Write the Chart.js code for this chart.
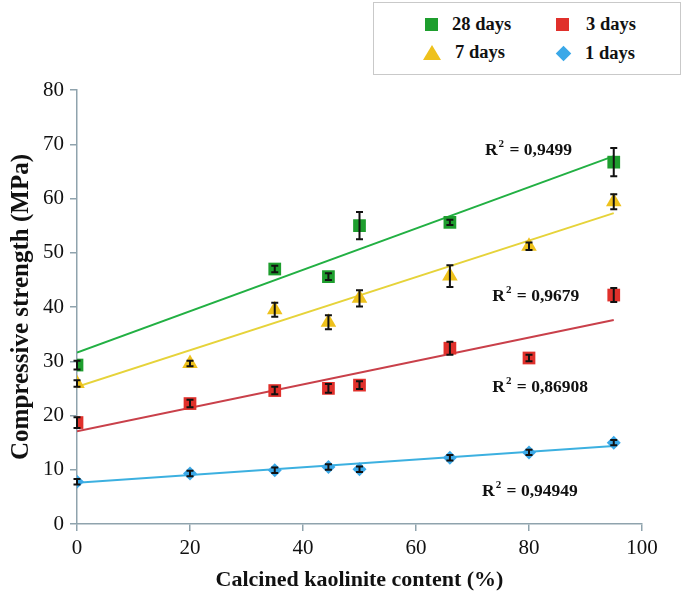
<!DOCTYPE html>
<html>
<head>
<meta charset="utf-8">
<script src="https://cdn.jsdelivr.net/npm/chart.js@4/dist/chart.umd.min.js"></script>
<style>
  html, body { margin: 0; padding: 0; background: #fff; }
  #wrap { position: relative; width: 685px; height: 599px; }
  canvas { position: absolute; left: 0; top: 0; }
  .legend {
    position: absolute; left: 373px; top: 2px; width: 306px; height: 71px;
    border: 1px solid #c9c9c9; background: #fff;
    font: bold 18.5px "Liberation Serif", serif; color: #111;
  }
  .item { position: absolute; display: flex; align-items: center; }
  .mk { display: inline-block; margin-right: 14px; }
  .sq { width: 13px; height: 13px; }
  .tri { width: 0; height: 0; border-left: 9px solid transparent; border-right: 9px solid transparent; border-bottom: 15px solid #eec11c; }
  .dia { width: 11px; height: 11px; background: #3aa8e8; transform: rotate(45deg); margin-left: 2px; margin-right: 16px; }
</style>
</head>
<body>
<div id="wrap">
  <canvas id="chart" width="685" height="599"></canvas>
  <div class="legend">
    <div class="item" style="left:51px;top:11px"><span class="mk sq" style="background:#1e9e2e"></span>28 days</div>
    <div class="item" style="left:182px;top:11px"><span class="mk sq" style="background:#e0302b;margin-right:17px"></span>3 days</div>
    <div class="item" style="left:49px;top:39px"><span class="mk tri"></span>7 days</div>
    <div class="item" style="left:182px;top:40px"><span class="mk dia"></span>1 days</div>
  </div>
</div>
<script>
// x positions (% calcined kaolinite)
const xAll = [0, 20, 35, 44.5, 50, 66, 80, 95];
const x28 = [0, 35, 44.5, 50, 66, 95];

// compressive strength (MPa) and error bars
const days28 = [29.3, 47.0, 45.6, 55.0, 55.6, 66.7];
const err28 = [0.8, 0.6, 0.6, 2.5, 0.5, 2.6];
const days7 = [25.9, 29.6, 39.5, 37.2, 41.6, 45.7, 51.2, 59.4];
const err7 = [0.6, 0.5, 1.3, 1.3, 1.5, 2.0, 0.7, 1.4];
const days3 = [18.7, 22.2, 24.6, 25.0, 25.6, 32.4, 30.6, 42.2];
const err3 = [1.0, 0.7, 0.7, 0.8, 0.7, 1.2, 0.6, 1.3];
const days1 = [7.8, 9.3, 9.9, 10.5, 10.1, 12.2, 13.2, 15.0];
const err1 = [0.5, 0.5, 0.5, 0.5, 0.5, 0.5, 0.5, 0.5];

// linear trend lines, read at x = 0 and x = 95
const trendX = [0, 95];
const trend28 = [31.6, 67.8];
const trend7 = [25.3, 57.3];
const trend3 = [17.1, 37.6];
const trend1 = [7.6, 14.4];

const r2Text = ["0,9499", "0,9679", "0,86908", "0,94949"];
const r2At = [[72.2, 68.0], [73.5, 41.1], [73.5, 24.4], [71.7, 5.2]];

const xTicks = [0, 20, 40, 60, 80, 100];

const pts = (xs, ys) => xs.map((x, i) => ({ x, y: ys[i] }));
const errs = [err28, err7, err3, err1];

const errorBars = {
  id: "errorBars",
  afterDatasetsDraw(chart) {
    const { ctx, scales: { x, y } } = chart;
    ctx.save();
    ctx.strokeStyle = "#111";
    ctx.lineWidth = 2;
    errs.forEach((e, di) => {
      chart.data.datasets[di].data.forEach((p, i) => {
        const px = x.getPixelForValue(p.x);
        const top = y.getPixelForValue(p.y + e[i]);
        const bot = y.getPixelForValue(p.y - e[i]);
        ctx.beginPath();
        ctx.moveTo(px, top); ctx.lineTo(px, bot);
        ctx.moveTo(px - 3.5, top); ctx.lineTo(px + 3.5, top);
        ctx.moveTo(px - 3.5, bot); ctx.lineTo(px + 3.5, bot);
        ctx.stroke();
      });
    });
    ctx.restore();
  }
};

const r2Labels = {
  id: "r2Labels",
  afterDraw(chart) {
    const { ctx, scales: { x, y } } = chart;
    ctx.save();
    ctx.fillStyle = "#111";
    ctx.textBaseline = "alphabetic";
    r2Text.forEach((t, i) => {
      let px = x.getPixelForValue(r2At[i][0]);
      const py = y.getPixelForValue(r2At[i][1]);
      ctx.font = "bold 17.5px 'Liberation Serif', serif";
      ctx.fillText("R", px, py);
      px += ctx.measureText("R").width;
      ctx.font = "bold 11px 'Liberation Serif', serif";
      ctx.fillText("2", px + 1, py - 8);
      px += ctx.measureText("2").width + 2;
      ctx.font = "bold 17.5px 'Liberation Serif', serif";
      ctx.fillText(" = " + t, px, py);
    });
    ctx.restore();
  }
};

const mk = (label, data, color, style, radius) => ({
  type: "scatter", label, data,
  backgroundColor: color, borderColor: color, borderWidth: 0,
  pointStyle: style, pointRadius: radius, pointHoverRadius: radius
});
const tl = (data, color) => ({
  type: "line", data: pts(trendX, data), borderColor: color, borderWidth: 2,
  pointRadius: 0, fill: false
});

const axisColor = "#8fa3ad";
const tickFont = { family: "'Liberation Serif', serif", size: 21 };
new Chart(document.getElementById("chart"), {
  type: "scatter",
  data: {
    datasets: [
      mk("28 days", pts(x28, days28), "#1e9e2e", "rect", 9),
      mk("7 days", pts(xAll, days7), "#eec11c", "triangle", 9),
      mk("3 days", pts(xAll, days3), "#e0302b", "rect", 9),
      mk("1 days", pts(xAll, days1), "#3aa8e8", "rectRot", 7),
      tl(trend28, "#22b043"),
      tl(trend7, "#e6d33a"),
      tl(trend3, "#c9404a"),
      tl(trend1, "#3cb0e0")
    ]
  },
  plugins: [errorBars, r2Labels],
  options: {
    responsive: false,
    animation: false,
    layout: { padding: { top: 90, right: 43, left: 0, bottom: 0 } },
    plugins: { legend: { display: false }, tooltip: { enabled: false } },
    scales: {
      x: {
        type: "linear", min: 0, max: 100,
        afterBuildTicks: s => { s.ticks = xTicks.map(v => ({ value: v })); },
        afterFit: s => { s.height = 75; },
        grid: { drawOnChartArea: false, color: axisColor, tickLength: 7, lineWidth: 1.5 },
        border: { color: axisColor, width: 1.5 },
        ticks: { color: "#111", font: tickFont, padding: 5, maxRotation: 0 },
        title: { display: true, text: "Calcined kaolinite content (%)", color: "#111",
                 font: { family: "'Liberation Serif', serif", size: 22, weight: "bold" }, padding: { top: 4, bottom: 5 } }
      },
      y: {
        min: 0, max: 80,
        afterFit: s => { s.width = 77; },
        grid: { drawOnChartArea: false, color: axisColor, tickLength: 7, lineWidth: 1.5 },
        border: { color: axisColor, width: 1.5 },
        ticks: { stepSize: 10, color: "#111", font: tickFont, padding: 6 },
        title: { display: true, text: "Compressive strength (MPa)", color: "#111",
                 font: { family: "'Liberation Serif', serif", size: 25, weight: "bold" }, padding: { top: 7, bottom: 0 } }
      }
    }
  }
});
</script>
</body>
</html>
